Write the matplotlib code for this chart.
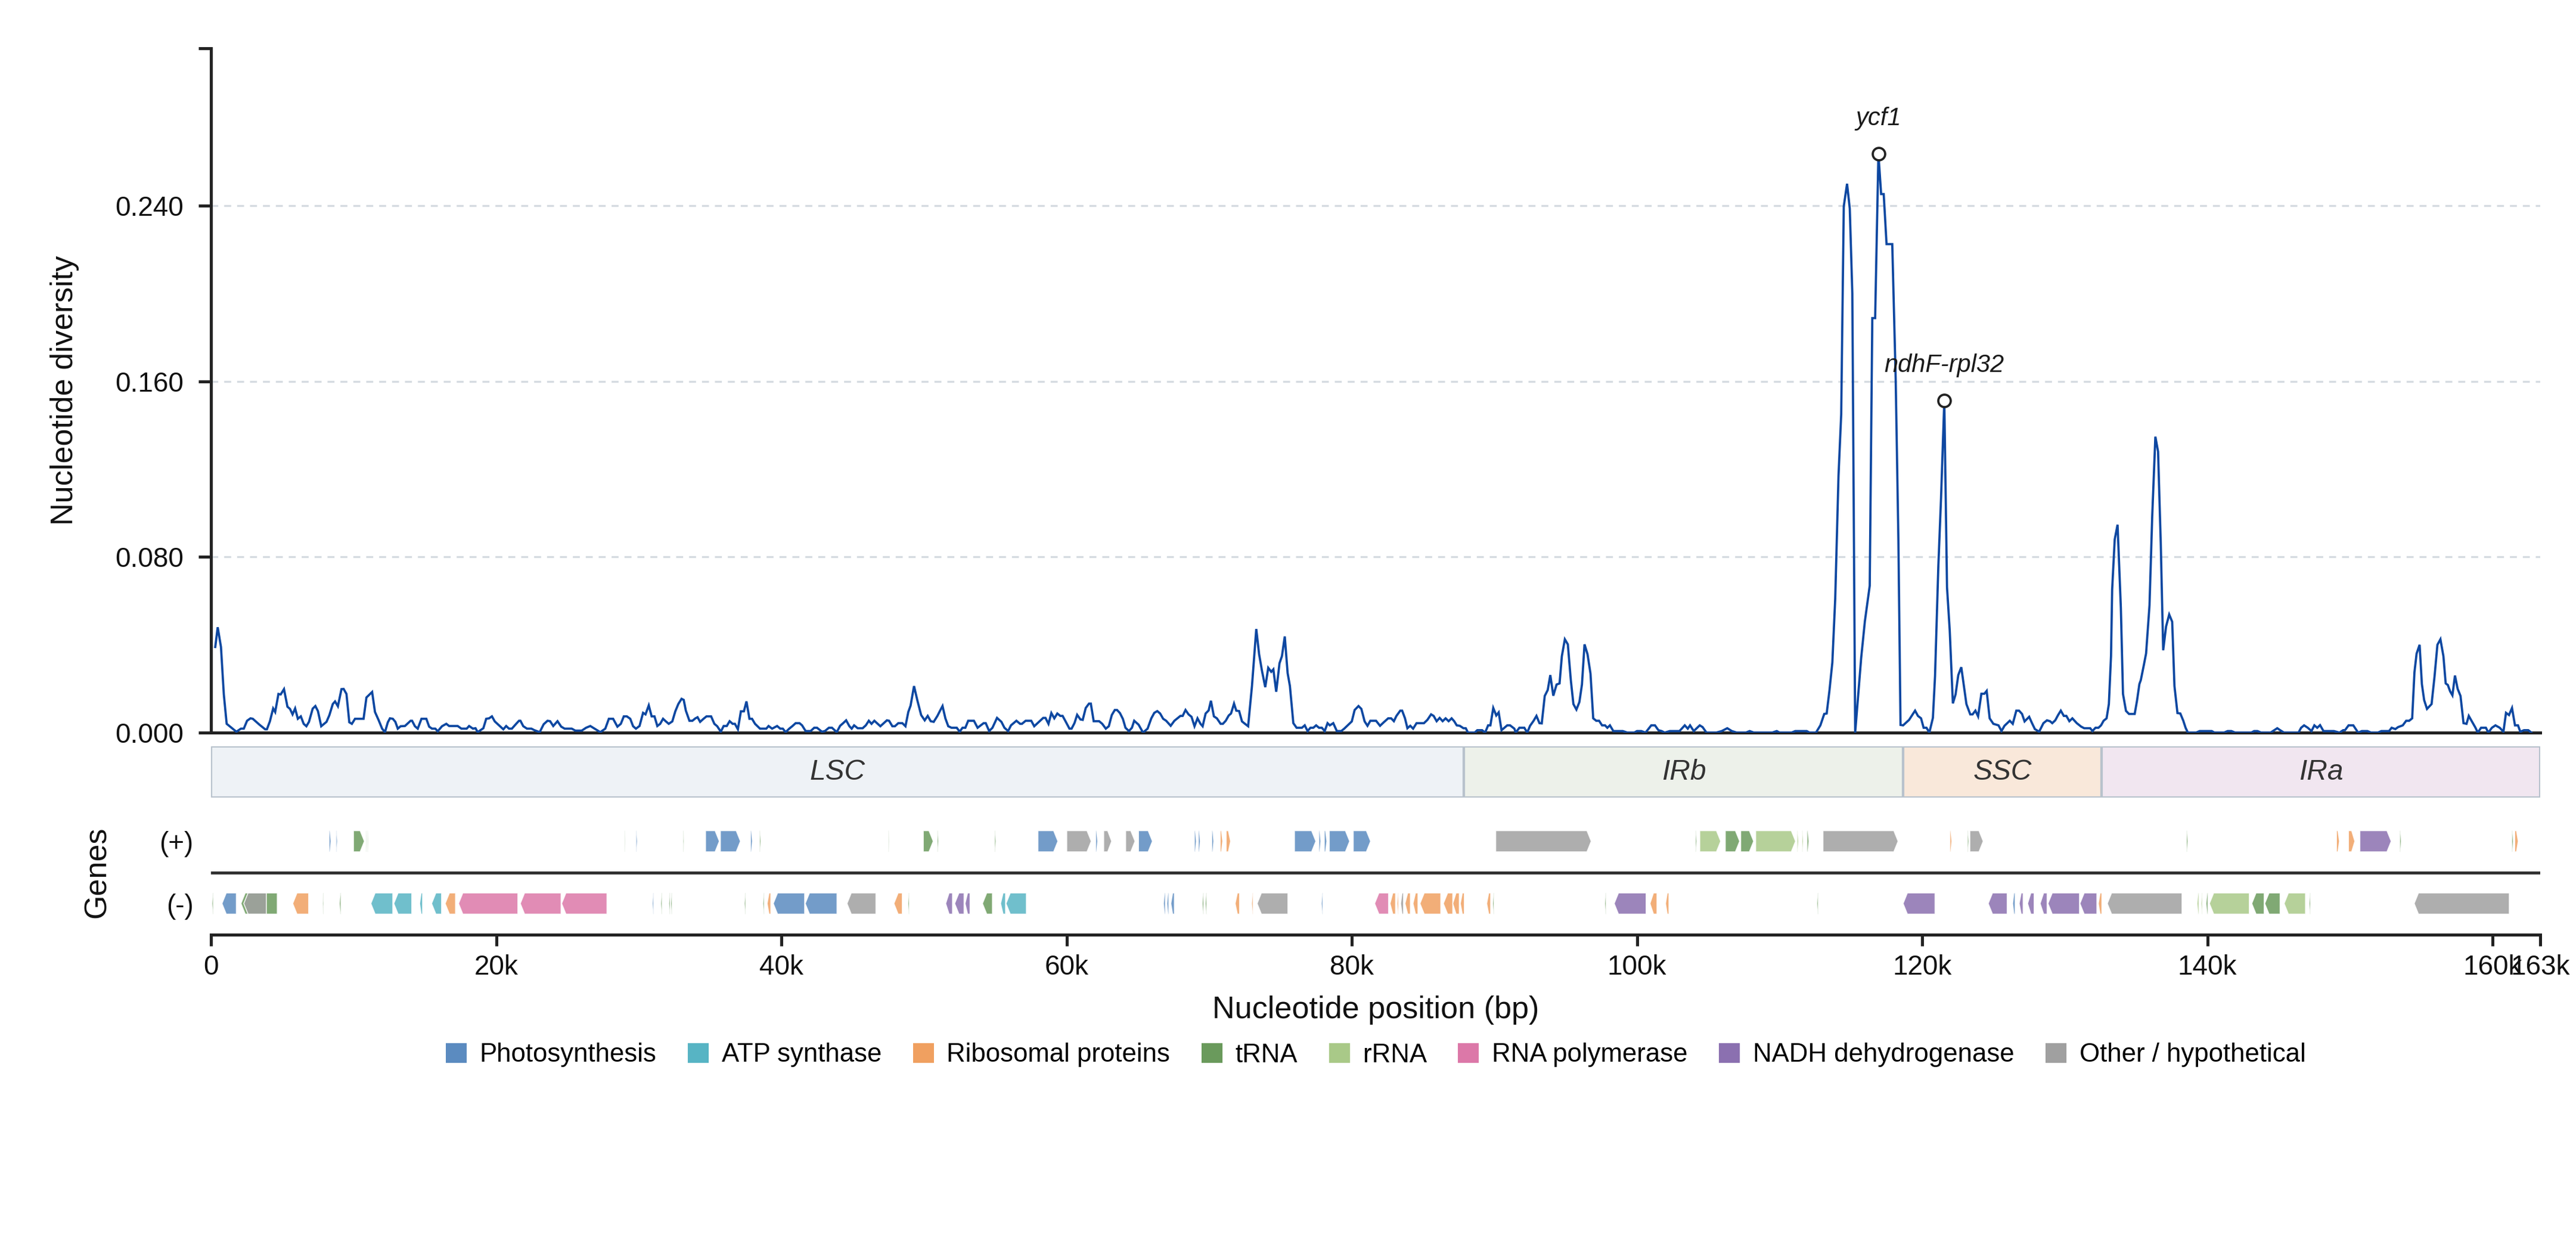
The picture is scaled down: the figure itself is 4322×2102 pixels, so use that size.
import numpy as np
import matplotlib
matplotlib.use("Agg")
import matplotlib.pyplot as plt
from matplotlib.patches import Polygon, Rectangle, Patch

plt.rcParams["font.family"] = ["Liberation Sans", "DejaVu Sans"]

# sliding-window nucleotide diversity, (position kb, pi)
win_a = [(0.3, .039), (0.47, .048), (0.7, .039), (0.9, .0174), (1.1, .004), (1.44, .0022), (1.78, .0004),
         (2.1, .0018), (2.3, .0018), (2.53, .0054), (2.77, .0065), (2.93, .0063), (3.4, .0036), (3.8, .0015),
         (3.92, .0015), (4.13, .0051), (4.36, .011), (4.5, .0094), (4.73, .0176), (4.89, .0174), (5.12, .0198),
         (5.36, .0118), (5.54, .0108), (5.72, .0083), (5.9, .011), (6.09, .0063), (6.3, .0074), (6.5, .004),
         (6.69, .0029), (6.87, .0049), (7.13, .0109), (7.32, .0121), (7.5, .0098), (7.73, .0029), (8.1, .0049),
         (8.3, .0079), (8.54, .013), (8.7, .0142), (8.9, .012), (9.15, .0198), (9.3, .0199), (9.5, .0176),
         (9.7, .0047), (9.88, .004), (10.1, .0063), (10.7, .0063), (10.9, .016), (11.3, .0185), (11.5, .0094),
         (11.76, .0056), (12.0, .0018), (12.2, .0002), (12.4, .0047), (12.55, .0065), (12.75, .0063),
         (12.93, .0049), (13.1, .0018), (13.3, .0029), (13.6, .003), (14.0, .0054), (14.1, .0054), (14.3, .0029),
         (14.5, .0018), (14.76, .0063), (15.1, .0063), (15.3, .0027), (15.5, .0018), (15.73, .0018), (15.9, .0006),
         (16.2, .0029), (16.5, .004), (16.7, .003), (17.3, .003), (17.56, .0018), (17.93, .0018), (18.1, .003),
         (18.37, .0018), (18.55, .002), (18.7, .0002), (19.1, .002), (19.3, .0063), (19.5, .0065), (19.7, .0074),
         (19.9, .0051), (20.2, .0033), (20.5, .0015), (20.7, .003), (20.9, .0018), (21.1, .0018), (21.4, .004),
         (21.6, .0054), (21.7, .0054), (21.9, .0029), (22.16, .0018), (22.47, .0018), (22.68, .0011), (23.05, .0002),
         (23.33, .0038), (23.6, .0054), (23.78, .0052), (24.0, .003), (24.3, .0052), (24.56, .0027), (24.8, .0018),
         (25.3, .0018), (25.55, .0009), (26.0, .0009), (26.3, .0022), (26.6, .003), (26.9, .0018), (27.3, .0002),
         (27.65, .0018), (27.9, .0063), (28.2, .0063), (28.5, .0027), (28.74, .004), (28.95, .0074), (29.16, .0074),
         (29.4, .0063), (29.6, .0029), (29.8, .0018), (30.05, .003), (30.3, .009), (30.47, .0083), (30.7, .0124),
         (30.9, .0074), (31.1, .0074), (31.3, .003), (31.5, .004), (31.7, .0063), (31.9, .0051), (32.1, .004),
         (32.35, .0051), (32.56, .0097), (32.77, .013), (33.0, .0154), (33.15, .0149), (33.3, .01), (33.55, .0054),
         (33.76, .0054), (33.97, .0065), (34.12, .007), (34.3, .0049), (34.54, .0063), (34.75, .0074), (35.07, .0074),
         (35.3, .004), (35.5, .0029), (35.75, .0004), (35.95, .003), (36.17, .003), (36.37, .0052), (36.58, .004),
         (36.74, .004), (36.95, .0015), (37.16, .0097), (37.37, .0097), (37.55, .0142), (37.76, .0063),
         (37.94, .0063), (38.15, .004), (38.5, .0018), (38.94, .0018), (39.1, .003), (39.35, .0018), (39.7, .003),
         (39.92, .0018), (40.1, .0018), (40.3, .0002), (40.55, .0018), (40.76, .0029)]

win_b = [(41.0, .0043), (41.27, .0043), (41.45, .0033), (41.7, .0007), (42.05, .0007), (42.3, .0022), (42.5, .0022),
         (42.84, .0004), (43.05, .0007), (43.33, .0022), (43.55, .0022), (43.88, .0002), (44.12, .0031),
         (44.33, .0043), (44.54, .0056), (44.77, .0029), (44.93, .0018), (45.1, .0033), (45.35, .002), (45.7, .002),
         (45.92, .0033), (46.13, .0054), (46.32, .004), (46.52, .0054), (46.94, .0029), (47.4, .0056), (47.55, .0054),
         (47.78, .0029), (47.96, .0029), (48.2, .0043), (48.48, .0043), (48.7, .0029), (48.9, .0094), (49.06, .0123),
         (49.3, .0212), (49.53, .0148), (49.8, .008), (50.05, .0056), (50.26, .0076), (50.47, .0052), (50.68, .0049),
         (50.94, .0076), (51.12, .0099), (51.3, .0121), (51.5, .0065), (51.7, .0029), (51.93, .0022), (52.3, .0022),
         (52.5, .0004), (52.7, .0022), (52.9, .0022), (53.1, .0054), (53.5, .0054), (53.76, .0022), (54.18, .0043),
         (54.33, .0043), (54.57, .0007), (54.8, .0022), (55.12, .0067), (55.43, .0049), (55.64, .0022), (55.9, .0007),
         (56.1, .0033), (56.48, .0054), (56.74, .004), (56.87, .004), (57.13, .0054), (57.52, .0054), (57.73, .0029),
         (58.36, .0067), (58.52, .0067), (58.73, .004), (58.93, .0089), (59.14, .0065), (59.35, .0087),
         (59.56, .0076), (59.72, .0076), (59.93, .0051), (60.2, .0018), (60.35, .0018), (60.55, .0043),
         (60.74, .0081), (60.97, .006), (61.13, .0058), (61.34, .0112), (61.57, .0132), (61.7, .0132), (61.9, .0052),
         (62.28, .0052), (62.5, .004), (62.75, .0018), (62.96, .0029), (63.17, .008), (63.38, .0103), (63.54, .0103),
         (63.74, .0089), (63.95, .0062), (64.13, .0022), (64.37, .0007), (64.58, .0022), (64.74, .0054),
         (65.05, .0036), (65.36, .0), (65.68, .0018), (65.94, .0065), (66.15, .009), (66.36, .0098), (66.56, .0087),
         (66.77, .0063), (66.98, .0054), (67.3, .0031), (67.56, .0054), (67.98, .0076), (68.14, .0076),
         (68.34, .0103), (68.55, .0083), (68.76, .0072), (68.97, .0029), (69.18, .0065), (69.39, .004),
         (69.54, .0029), (69.75, .0087), (69.96, .0101), (70.12, .0145), (70.33, .0074), (70.54, .0065), (70.8, .004),
         (70.96, .004), (71.16, .0054), (71.37, .0078), (71.53, .0087), (71.74, .0132), (71.9, .01), (72.1, .0098),
         (72.3, .0051), (72.51, .004), (72.73, .0029), (73.0, .0212), (73.3, .0472), (73.5, .0357), (73.7, .0282),
         (73.93, .0207), (74.14, .0295), (74.35, .0277), (74.5, .0288), (74.7, .0186), (74.93, .0316), (75.1, .0348),
         (75.3, .0438), (75.5, .0271), (75.66, .0212), (75.9, .0043), (76.13, .0022), (76.5, .0022), (76.7, .0033),
         (76.9, .0007), (77.1, .0022), (77.3, .0022), (77.5, .0033), (77.7, .0022), (77.9, .0022), (78.1, .0007),
         (78.3, .0043), (78.46, .0033), (78.7, .0043), (78.95, .0007), (79.26, .0007), (79.47, .0018), (80.0, .0051),
         (80.2, .0103), (80.47, .0121), (80.67, .0108), (80.9, .0051), (81.1, .0031), (81.3, .0054), (81.7, .0054)]

win_c = [(81.98, .0031), (82.24, .0047), (82.55, .0065), (82.76, .0065), (82.95, .0052), (83.13, .0076), (83.4, .01),
         (83.53, .01), (83.73, .0065), (83.9, .002), (84.1, .0031), (84.3, .0018), (84.54, .0043), (85.06, .0043),
         (85.3, .0058), (85.56, .0083), (85.74, .0076), (85.95, .0052), (86.16, .0067), (86.37, .0052),
         (86.58, .0065), (86.79, .0052), (87.0, .0065), (87.18, .0052), (87.36, .0033), (87.57, .0031), (87.83, .002),
         (87.99, .002), (88.15, .0), (88.62, .0), (88.8, .0011), (89.14, .0011), (89.35, .0), (89.56, .0033),
         (89.72, .0033), (89.92, .0112), (90.13, .0078), (90.3, .0092), (90.5, .0011), (90.9, .0033), (91.1, .0033),
         (91.4, .0018), (91.5, .0), (91.75, .0022), (92.1, .0022), (92.3, .0), (92.5, .0031), (92.75, .0054),
         (92.95, .0076), (93.16, .0043), (93.32, .0042), (93.53, .0167), (93.74, .0194), (93.92, .0262),
         (94.13, .0168), (94.36, .0219), (94.57, .0224), (94.73, .0348), (94.94, .0425), (95.15, .0402),
         (95.36, .0239), (95.54, .013), (95.75, .0105), (95.96, .0139), (96.14, .0219), (96.32, .0402),
         (96.53, .0357), (96.74, .0268), (96.93, .0065), (97.14, .0054), (97.34, .0054), (97.55, .0033),
         (97.76, .0033), (97.92, .0022), (98.1, .0033), (98.34, .0007), (99.0, .0007), (99.33, .0), (99.8, .0),
         (100.0, .0007), (100.3, .0007), (100.6, .0), (101.0, .0033), (101.26, .0033), (101.5, .0011),
         (101.73, .0007), (101.94, .0), (102.3, .0007), (102.98, .0007), (103.35, .0033), (103.56, .0018),
         (103.72, .0033), (103.98, .0007), (104.4, .0033), (104.6, .0025), (104.87, .0), (105.55, .0),
         (105.94, .0007), (106.33, .002), (106.65, .0007), (107.0, .0), (107.63, .0), (107.9, .0007), (108.2, .0),
         (109.47, .0), (109.8, .0007), (110.0, .0), (110.83, .0), (111.1, .0007), (111.9, .0007), (112.1, .0),
         (112.55, .0), (112.86, .0033), (113.13, .0085), (113.3, .0087), (113.5, .0194), (113.7, .032)]

win_d = [(113.9, .061), (114.13, .117), (114.32, .145), (114.5, .2397), (114.73, .25), (114.92, .2387), (115.1, .2),
         (115.3, .0), (115.72, .034), (115.98, .0507), (116.32, .0669), (116.5, .1888), (116.7, .1888),
         (116.93, .2636), (117.12, .2453), (117.3, .2453), (117.5, .2225), (117.9, .2225), (118.14, .161),
         (118.33, .088), (118.48, .0035), (118.66, .0033), (119.08, .0058), (119.3, .008), (119.5, .01),
         (119.7, .0076), (119.92, .0065), (120.1, .0022), (120.3, .0022), (120.5, .0), (120.75, .0067),
         (120.9, .0257), (121.13, .0756), (121.32, .1068), (121.55, .1512), (121.74, .0663), (121.93, .0465),
         (122.15, .0133), (122.34, .0174), (122.53, .0262), (122.74, .0298)]

win_e = [(123.1, .013), (123.37, .0083), (123.53, .0083), (123.73, .01), (123.92, .0074), (124.15, .0177),
         (124.36, .0177), (124.52, .019), (124.73, .0065), (124.99, .004), (125.35, .0033), (125.56, .0007),
         (125.77, .0031), (126.14, .0054), (126.35, .004), (126.6, .01), (126.79, .01), (127.0, .0085),
         (127.18, .0051), (127.5, .0072), (127.7, .0043), (127.9, .0016), (128.2, .0004), (128.5, .0043),
         (128.75, .0056), (128.96, .0052), (129.12, .0043), (129.33, .0056), (129.53, .008), (129.72, .01),
         (129.93, .0076), (130.11, .0076), (130.32, .0052), (130.53, .0065), (130.84, .0043), (131.15, .0027),
         (131.36, .002), (131.78, .002), (131.94, .0007), (132.15, .0022), (132.36, .0022), (132.54, .0033),
         (132.72, .0054), (132.93, .0065), (133.09, .013), (133.24, .0348), (133.32, .0652), (133.5, .088),
         (133.7, .0947), (133.93, .0569), (134.08, .0176), (134.29, .0099), (134.5, .0085), (134.9, .0085),
         (135.07, .0148), (135.23, .0221), (135.33, .0239), (135.54, .0307), (135.7, .0361), (135.94, .058),
         (136.13, .0985), (136.35, .1348), (136.54, .128), (136.73, .086), (136.9, .0375), (137.1, .0483),
         (137.32, .0538), (137.53, .0505), (137.69, .0212), (137.9, .0089), (138.1, .0087), (138.31, .0054),
         (138.47, .0022), (138.63, .0)]

win_f = [(139.2, .0), (139.46, .0007), (140.3, .0007), (140.5, .0), (141.16, .0), (141.42, .0007), (141.68, .0007),
         (141.95, .0), (143.07, .0), (143.28, .0007), (143.51, .0007), (143.77, .0), (144.43, .0), (144.69, .0011),
         (144.9, .002), (145.1, .0011), (145.37, .0), (146.39, .0), (146.57, .0022), (146.78, .0033), (147.04, .0022),
         (147.3, .0007), (147.5, .0033), (147.7, .0022), (147.9, .0034), (148.14, .0007), (148.87, .0007),
         (149.26, .0), (149.52, .0011), (149.65, .0011), (149.9, .0033), (150.23, .0033), (150.57, .0),
         (150.83, .0007), (151.22, .0007), (151.48, .0), (151.95, .0), (152.2, .0007), (152.74, .0007),
         (152.92, .0022), (153.18, .0016), (153.37, .0025), (153.7, .0033), (153.94, .0054), (154.15, .0054),
         (154.36, .0065), (154.52, .0275), (154.67, .036), (154.88, .04), (155.04, .0221), (155.2, .0148),
         (155.4, .0108), (155.72, .013), (155.93, .0257), (156.13, .04), (156.34, .0425), (156.55, .0348),
         (156.71, .0224), (156.86, .0217), (157.02, .0188), (157.18, .017), (157.36, .026), (157.55, .0199),
         (157.75, .0167), (157.96, .0043), (158.17, .004), (158.33, .0076), (158.6, .0045), (158.8, .0022),
         (158.96, .0), (159.19, .0022), (159.53, .0022), (159.7, .0), (159.95, .0022), (160.2, .0033),
         (160.5, .0022), (160.76, .0004), (160.94, .009), (161.15, .008), (161.36, .0112), (161.57, .0033),
         (161.78, .0033), (161.94, .0004), (162.2, .0011), (162.5, .0011), (162.72, .0)]

genome_len = 163340
peaks = [("ycf1", 116.93, 0.2636), ("ndhF-rpl32", 121.55, 0.1512)]

regions = ["LSC", "IRb", "SSC", "IRa"]
region_bounds = [0, 87.87, 118.68, 132.57, 163.34]
region_colors = ["#eef2f6", "#edf1ea", "#f9e8da", "#f1e6f0"]

cat_names = {"ps": "Photosynthesis", "atp": "ATP synthase", "rib": "Ribosomal proteins", "trna": "tRNA",
             "rrna": "rRNA", "rpo": "RNA polymerase", "ndh": "NADH dehydrogenase", "oth": "Other / hypothetical"}
cat_colors = {"ps": "#5b8bc0", "atp": "#57b4c4", "rib": "#f0a060", "trna": "#6a9a5c",
              "rrna": "#a9c988", "rpo": "#dc78a8", "ndh": "#8b70b0", "oth": "#a0a0a0"}

# genes (start kb, end kb, category)
plus_genes = [(8.28, 8.42, "ps"), (8.77, 8.87, "ps"), (9.99, 10.76, "trna"), (10.86, 10.93, "trna"),
              (10.97, 11.04, "trna"), (29.0, 29.06, "trna"), (29.8, 29.9, "ps"), (33.1, 33.18, "trna"),
              (34.68, 35.65, "ps"), (35.72, 37.13, "ps"), (37.83, 37.97, "ps"), (38.46, 38.56, "trna"),
              (47.5, 47.57, "trna"), (49.95, 50.65, "trna"), (50.93, 51.03, "trna"), (54.95, 55.05, "trna"),
              (57.99, 59.39, "ps"), (60.01, 61.73, "oth"), (62.04, 62.18, "ps"), (62.6, 63.16, "oth"),
              (64.14, 64.8, "oth"), (65.04, 66.02, "ps"), (68.96, 69.1, "ps"), (69.24, 69.38, "ps"),
              (70.18, 70.32, "ps"), (70.77, 70.95, "rib"), (71.19, 71.5, "rib"), (75.98, 77.48, "ps"),
              (77.69, 77.83, "ps"), (78.07, 78.25, "ps"), (78.42, 79.85, "ps"), (80.1, 81.32, "ps"),
              (90.09, 96.79, "oth"), (104.1, 104.2, "trna"), (104.4, 105.87, "rrna"), (106.19, 107.2, "trna"),
              (107.27, 108.18, "trna"), (108.32, 111.12, "rrna"), (111.22, 111.33, "rrna"), (111.57, 111.67, "rrna"),
              (111.92, 112.06, "trna"), (113.04, 118.31, "oth"), (121.94, 122.08, "rib"), (123.17, 123.27, "trna"),
              (123.34, 124.28, "oth"), (138.53, 138.64, "trna"), (149.05, 149.26, "rib"), (149.89, 150.34, "rib"),
              (150.69, 152.89, "ndh"), (153.48, 153.59, "trna"), (161.34, 161.45, "trna"), (161.55, 161.8, "rib")]

minus_genes = [(0.07, 0.17, "trna"), (0.77, 1.78, "ps"), (2.1, 4.65, "trna"), (2.3, 3.88, "oth"),
               (5.73, 6.85, "rib"), (7.82, 7.9, "trna"), (9.0, 9.12, "trna"), (11.21, 12.75, "atp"),
               (12.82, 14.08, "atp"), (14.63, 14.84, "atp"), (15.47, 16.17, "atp"), (16.42, 17.15, "rib"),
               (17.36, 21.52, "rpo"), (21.69, 24.55, "rpo"), (24.59, 27.77, "rpo"), (30.95, 31.05, "ps"),
               (31.54, 31.64, "trna"), (32.1, 32.2, "trna"), (32.24, 32.34, "trna"), (37.4, 37.5, "trna"),
               (38.7, 38.8, "trna"), (39.0, 39.26, "rib"), (39.43, 41.63, "ps"), (41.67, 43.9, "ps"),
               (44.6, 46.63, "oth"), (47.89, 48.48, "rib"), (48.87, 48.97, "trna"), (51.52, 52.0, "ndh"),
               (52.15, 52.81, "ndh"), (52.88, 53.23, "ndh"), (54.1, 54.8, "trna"), (55.37, 55.72, "atp"),
               (55.75, 57.18, "atp"), (66.79, 66.93, "ps"), (67.03, 67.17, "ps"), (67.31, 67.56, "ps"),
               (69.51, 69.62, "trna"), (69.72, 69.83, "trna"), (71.82, 72.13, "rib"), (72.97, 73.08, "rib"),
               (73.36, 75.52, "oth"), (77.86, 77.97, "ps"), (81.6, 82.58, "rpo"), (82.68, 83.07, "rib"),
               (83.17, 83.28, "rib"), (83.42, 83.63, "oth"), (83.73, 84.11, "rib"), (84.29, 84.64, "rib"),
               (84.78, 86.24, "rib"), (86.42, 87.08, "rib"), (87.08, 87.54, "rib"), (87.61, 87.89, "rib"),
               (89.46, 89.74, "rib"), (89.88, 89.98, "trna"), (97.74, 97.84, "trna"), (98.4, 100.64, "ndh"),
               (100.91, 101.4, "rib"), (102.0, 102.24, "rib"), (112.62, 112.72, "trna"), (118.66, 120.9, "ndh"),
               (124.63, 125.96, "ndh"), (126.34, 126.52, "ps"), (126.8, 127.08, "ndh"), (127.39, 127.85, "ndh"),
               (128.27, 128.76, "ndh"), (128.82, 131.03, "ndh"), (131.06, 132.25, "ndh"), (132.35, 132.6, "rib"),
               (132.98, 138.22, "oth"), (139.27, 139.41, "rrna"), (139.55, 139.65, "rrna"), (139.9, 140.04, "trna"),
               (140.14, 142.94, "rrna"), (143.11, 143.98, "trna"), (144.02, 145.1, "trna"), (145.38, 146.88, "rrna"),
               (147.13, 147.23, "trna"), (154.5, 161.17, "oth")]

xtick_pos = [0, 20000, 40000, 60000, 80000, 100000, 120000, 140000, 160000, genome_len]
xtick_lab = ["0", "20k", "40k", "60k", "80k", "100k", "120k", "140k", "160k", "163k"]
ytick_pos = [0.0, 0.08, 0.16, 0.24]
y_top = 0.3117


def gene_poly(s, e, yc, strand, h=0.17, head=300.0):
    s, e = s * 1000, e * 1000
    hl = min(head, 0.5 * (e - s))
    if strand > 0:
        pts = [(s, yc - h), (e - hl, yc - h), (e, yc), (e - hl, yc + h), (s, yc + h)]
    else:
        pts = [(e, yc - h), (s + hl, yc - h), (s, yc), (s + hl, yc + h), (e, yc + h)]
    return pts


W, H = 4322, 2102
fig = plt.figure(figsize=(W / 300, H / 300), dpi=300)
x0, x1 = 354 / W, 4262 / W
ax = fig.add_axes([x0, 1 - 1229 / H, x1 - x0, (1229 - 81) / H])
ax_reg = fig.add_axes([x0, 1 - 1338 / H, x1 - x0, (1338 - 1252) / H])
ax_gen = fig.add_axes([x0, 1 - 1568 / H, x1 - x0, (1568 - 1359) / H])

dark = "#222222"

# --- diversity curve
win = np.array(win_a + win_b + win_c + win_d + win_e + win_f)
ax.plot(win[:, 0] * 1000, win[:, 1], color="#0d47a1", lw=0.9, zorder=3, solid_joinstyle="miter")
for name, px, py in peaks:
    ax.plot(px * 1000, py, "o", ms=5, mfc="white", mec=dark, mew=0.9, zorder=4)
    ax.annotate(name, (px * 1000, py), xytext=(0, 9.5), textcoords="offset points", ha="center",
                va="bottom", fontsize=10, style="italic", color="#1a1a1a")

ax.set_xlim(0, genome_len)
ax.set_ylim(0, y_top)
ax.set_yticks(ytick_pos)
ax.set_yticklabels(["%.3f" % v for v in ytick_pos])
ax.set_yticks([y_top], minor=True)
ax.set_xticks([])
ax.grid(axis="y", which="major", color="#d5dbe1", lw=0.8, ls=(0, (3.5, 3)))
ax.set_axisbelow(True)
for sp in ["top", "right"]:
    ax.spines[sp].set_visible(False)
for sp in ["left", "bottom"]:
    ax.spines[sp].set_color(dark)
    ax.spines[sp].set_linewidth(1.2)
ax.tick_params(axis="y", which="both", length=5, width=1.2, color=dark, labelsize=11, pad=6,
               labelcolor="#111111")
ax.set_ylabel("Nucleotide diversity", fontsize=12.5, color="#111111")
ax.yaxis.set_label_coords((133 - 354) / 3908, 0.5)

# --- region band
for i, name in enumerate(regions):
    a, b = region_bounds[i] * 1000, region_bounds[i + 1] * 1000
    ax_reg.add_patch(Rectangle((a, 0), b - a, 1, facecolor=region_colors[i], edgecolor="#b8c2cc", lw=1.0))
    ax_reg.text((a + b) / 2, 0.5, name, ha="center", va="center", style="italic", fontsize=11.5, color="#333333")
ax_reg.set_xlim(0, genome_len)
ax_reg.set_ylim(0, 1)
ax_reg.axis("off")

# --- gene track
for s, e, c in plus_genes:
    ax_gen.add_patch(Polygon(gene_poly(s, e, 0.5, 1), closed=True, facecolor=cat_colors[c], alpha=0.85,
                             edgecolor="white", lw=0.4))
for s, e, c in minus_genes:
    ax_gen.add_patch(Polygon(gene_poly(s, e, -0.5, -1), closed=True, facecolor=cat_colors[c], alpha=0.85,
                             edgecolor="white", lw=0.4))
ax_gen.axhline(0, color="#333333", lw=1.2)
ax_gen.set_xlim(0, genome_len)
ax_gen.set_ylim(-1, 1)
ax_gen.set_yticks([0.5, -0.5])
ax_gen.set_yticklabels(["(+)", "(-)"])
ax_gen.tick_params(axis="y", length=0, pad=7, labelsize=11, labelcolor="#111111")
ax_gen.set_xticks(xtick_pos)
ax_gen.set_xticklabels(xtick_lab)
ax_gen.tick_params(axis="x", length=4.5, width=1.2, color=dark, labelsize=11, pad=3.5, labelcolor="#111111")
for sp in ["top", "right", "left"]:
    ax_gen.spines[sp].set_visible(False)
ax_gen.spines["bottom"].set_color(dark)
ax_gen.spines["bottom"].set_linewidth(1.2)
ax_gen.set_ylabel("Genes", fontsize=12.5, color="#111111")
ax_gen.yaxis.set_label_coords((188 - 354) / 3908, 0.5)
ax_gen.set_xlabel("Nucleotide position (bp)", fontsize=12.5, color="#111111", labelpad=6)

handles = [Patch(facecolor=cat_colors[k], edgecolor="none", label=cat_names[k]) for k in cat_names]
fig.legend(handles=handles, loc="center", bbox_to_anchor=((354 + 4262) / 2 / W, 1 - 1770 / H), ncol=8,
           frameon=False, fontsize=10.5, handlelength=0.8, handleheight=0.8, handletextpad=0.5,
           columnspacing=1.2)

fig.savefig("out.png", dpi=300)
